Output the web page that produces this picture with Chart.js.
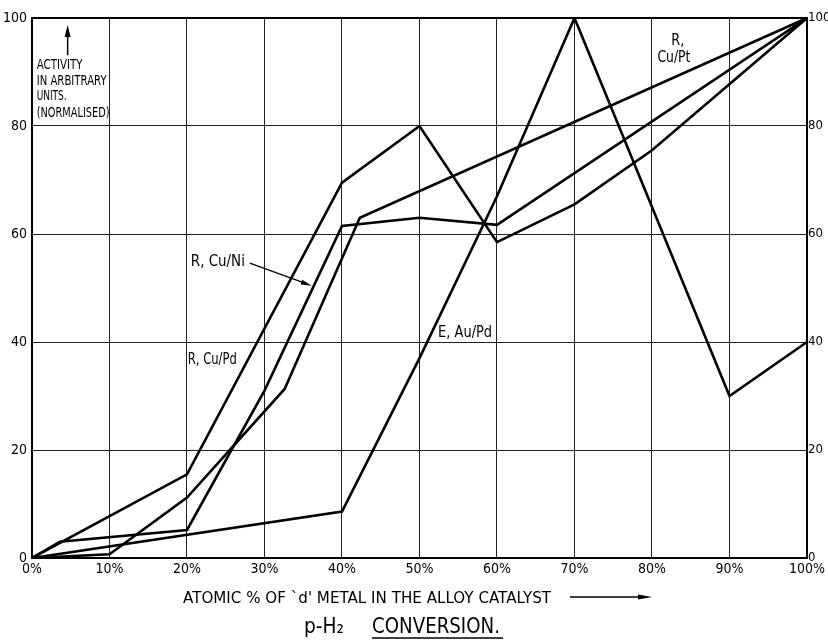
<!DOCTYPE html>
<html><head><meta charset="utf-8">
<script src="https://cdn.jsdelivr.net/npm/chart.js@4/dist/chart.umd.min.js"></script>
<style>html,body{margin:0;padding:0;background:#fff;}canvas{display:block}</style>
</head><body>
<canvas id="c" width="828" height="642"></canvas>
<script>
const FONT = "'Liberation Sans Narrow','DejaVu Sans Condensed',sans-serif";
const TFONT = "'DejaVu Sans',sans-serif";

// tick labels
const xTickValues = [0,10,20,30,40,50,60,70,80,90,100];
const xTickLabels = ['0%','10%','20%','30%','40%','50%','60%','70%','80%','90%','100%'];
const yTickLabels = ['0','20','40','60','80','100'];

// series (x = atomic % of d metal, y = activity, normalised)
const xCuPd = [0, 20, 40, 50, 60, 70, 80, 100];
const yCuPd = [0, 15.5, 69.5, 80, 58.5, 65.5, 75.5, 100];

const xCuNi = [0, 3.6, 20, 30, 40, 50, 60, 100];
const yCuNi = [0, 3, 5.2, 31, 61.5, 63, 61.7, 100];

const xCuPt = [0, 10, 20, 32.6, 42.3, 100];
const yCuPt = [0, 0.7, 11.2, 31.3, 63, 100];

const xAuPd = [0, 40, 50, 60, 70, 90, 100];
const yAuPd = [0, 8.6, 37, 67, 100, 30, 40];

const seriesNames = ['R, Cu/Pd', 'R, Cu/Ni', 'R, Cu/Pt', 'E, Au/Pd'];

function pts(xs, ys){ return xs.map((x,i)=>({x:x, y:ys[i]})); }
function ds(label, xs, ys){
  return {label, data: pts(xs, ys), borderColor:'#000', borderWidth:2.6,
          pointRadius:0, tension:0, fill:false, borderJoinStyle:'miter'};
}

// draw text, squeezed/stretched horizontally to a given width
function fitText(ctx, txt, x, y, w, size, weight){
  ctx.save();
  ctx.font = (weight||'normal') + ' ' + size + 'px ' + TFONT;
  const m = ctx.measureText(txt).width;
  ctx.translate(x, y);
  ctx.scale(w / m, 1);
  ctx.fillText(txt, 0, 0);
  ctx.restore();
}
function arrowHead(ctx, x1, y1, x2, y2, len, half){
  const ang = Math.atan2(y2-y1, x2-x1);
  ctx.beginPath();
  ctx.moveTo(x2, y2);
  ctx.lineTo(x2 - len*Math.cos(ang) + half*Math.sin(ang), y2 - len*Math.sin(ang) - half*Math.cos(ang));
  ctx.lineTo(x2 - len*Math.cos(ang) - half*Math.sin(ang), y2 - len*Math.sin(ang) + half*Math.cos(ang));
  ctx.closePath(); ctx.fill();
}

const deco = {
  id: 'deco',
  afterDraw(chart){
    const ctx = chart.ctx, a = chart.chartArea;
    const X = v => chart.scales.x.getPixelForValue(v);
    const Y = v => chart.scales.y.getPixelForValue(v);
    ctx.save();
    ctx.strokeStyle = '#000'; ctx.fillStyle = '#000';
    // frame
    ctx.lineWidth = 2;
    ctx.strokeRect(a.left, a.top, a.right - a.left, a.bottom - a.top);

    ctx.textAlign = 'left'; ctx.textBaseline = 'alphabetic';
    // y-axis note
    const nx = X(0.6), ny = Y(90.6);
    fitText(ctx, 'ACTIVITY', nx, ny, 46, 14);
    fitText(ctx, 'IN ARBITRARY', nx, ny + 16, 70, 14);
    fitText(ctx, 'UNITS.', nx, ny + 31, 30, 14);
    fitText(ctx, '(NORMALISED)', nx, ny + 48, 73, 14);
    // up arrow
    ctx.lineWidth = 1.5;
    const ax = X(4.6);
    ctx.beginPath(); ctx.moveTo(ax, Y(93.1)); ctx.lineTo(ax, Y(97)); ctx.stroke();
    arrowHead(ctx, ax, Y(93.1), ax, Y(98.7), 12, 3);

    // series labels
    fitText(ctx, seriesNames[1], X(20.5), Y(54.1), 54, 16);
    ctx.lineWidth = 1.2;
    ctx.beginPath(); ctx.moveTo(X(28.1), Y(54.6)); ctx.lineTo(X(35.2), Y(50.9)); ctx.stroke();
    arrowHead(ctx, X(28.1), Y(54.6), X(36.1), Y(50.4), 11, 2.5);
    fitText(ctx, seriesNames[0], X(20.1), Y(35.9), 49, 16);
    fitText(ctx, seriesNames[3], X(52.4), Y(40.9), 54, 16);
    fitText(ctx, 'R,', X(82.5), Y(95), 13, 16);
    fitText(ctx, 'Cu/Pt', X(80.7), Y(91.9), 33, 16);

    // x-axis title with arrow
    const ty = a.bottom + 45;
    fitText(ctx, "ATOMIC % OF `d' METAL IN THE ALLOY CATALYST", 183, ty, 368, 15);
    ctx.lineWidth = 1.5;
    ctx.beginPath(); ctx.moveTo(570, ty - 6); ctx.lineTo(640, ty - 6); ctx.stroke();
    arrowHead(ctx, 570, ty - 6, 652, ty - 6, 14, 2.5);

    // chart title
    const cy = a.bottom + 75;
    fitText(ctx, 'p-H\u2082', 304, cy, 40, 21);
    fitText(ctx, 'CONVERSION.', 372, cy, 128, 21);
    ctx.lineWidth = 1.5;
    ctx.beginPath(); ctx.moveTo(372, cy + 5); ctx.lineTo(503, cy + 5); ctx.stroke();
    ctx.restore();
  }
};

const tickFont = {family: FONT, size: 14};
new Chart(document.getElementById('c'), {
  type: 'line',
  data: { datasets: [
    ds(seriesNames[0], xCuPd, yCuPd),
    ds(seriesNames[1], xCuNi, yCuNi),
    ds(seriesNames[2], xCuPt, yCuPt),
    ds(seriesNames[3], xAuPd, yAuPd)
  ]},
  options: {
    responsive: false, animation: false,
    layout: { padding: {top: 18, left: 0, right: 0, bottom: 0} },
    plugins: { legend: {display:false}, tooltip: {enabled:false}, title:{display:false} },
    scales: {
      x: {
        type: 'linear', min: 0, max: 100,
        afterBuildTicks: s => { s.ticks = xTickValues.map(v => ({value: v})); },
        afterFit: s => { s.height = 84; },
        ticks: { font: tickFont, color: '#000', padding: 3, maxRotation: 0, autoSkip: false,
                 callback: (v) => xTickLabels[xTickValues.indexOf(v)] },
        grid: { color: '#222', lineWidth: 1, drawTicks: false },
        border: { display: false }
      },
      y: {
        type: 'linear', min: 0, max: 100, position: 'left',
        afterFit: s => { s.width = 32; },
        ticks: { stepSize: 20, font: tickFont, color: '#000', padding: 5,
                 callback: (v) => yTickLabels[v / 20] },
        grid: { color: '#222', lineWidth: 1, drawTicks: false },
        border: { display: false }
      },
      yRight: {
        type: 'linear', min: 0, max: 100, position: 'right', axis: 'y',
        afterFit: s => { s.width = 21; },
        ticks: { stepSize: 20, font: {family: FONT, size: 13}, color: '#000', padding: 1,
                 callback: (v) => yTickLabels[v / 20] },
        grid: { display: false, drawTicks: false },
        border: { display: false }
      }
    }
  },
  plugins: [deco]
});
</script>
</body></html>
